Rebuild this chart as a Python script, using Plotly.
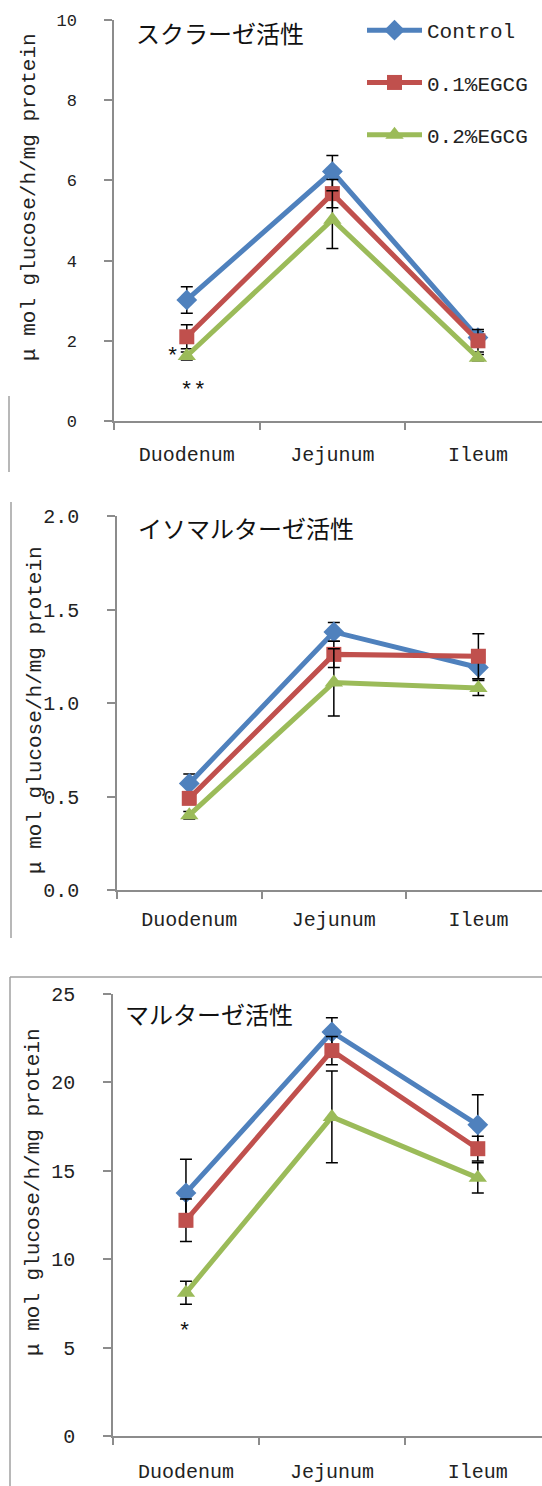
import plotly.graph_objects as go

W, H = 542, 1486

categories = ["Duodenum", "Jejunum", "Ileum"]
series_names = ["Control", "0.1%EGCG", "0.2%EGCG"]

# Sucrase activity (top)
sucrase_vals = {
    "Control": [3.02, 6.22, 2.08],
    "0.1%EGCG": [2.10, 5.67, 2.00],
    "0.2%EGCG": [1.62, 5.02, 1.58],
}
sucrase_err = {
    "Control": [0.33, 0.40, 0.15],
    "0.1%EGCG": [0.30, 0.35, 0.28],
    "0.2%EGCG": [0.10, 0.72, 0.08],
}

# Isomaltase activity (middle)
isomaltase_vals = {
    "Control": [0.57, 1.38, 1.19],
    "0.1%EGCG": [0.49, 1.26, 1.25],
    "0.2%EGCG": [0.40, 1.11, 1.08],
}
isomaltase_err = {
    "Control": [0.05, 0.05, 0.06],
    "0.1%EGCG": [0.03, 0.07, 0.12],
    "0.2%EGCG": [0.02, 0.18, 0.04],
}

# Maltase activity (bottom)
maltase_vals = {
    "Control": [13.75, 22.85, 17.6],
    "0.1%EGCG": [12.2, 21.8, 16.25],
    "0.2%EGCG": [8.1, 18.05, 14.6],
}
maltase_err = {
    "Control": [1.9, 0.8, 1.7],
    "0.1%EGCG": [1.2, 0.8, 0.7],
    "0.2%EGCG": [0.65, 2.6, 0.85],
}

panel_titles = ["スクラーゼ活性", "イソマルターゼ活性", "マルターゼ活性"]
y_title = "μ mol glucose/h/mg protein"
y_ranges = [[0, 10], [0, 2], [0, 25]]
y_dticks = [2, 0.5, 5]
y_formats = ["d", ".1f", "d"]

# significance marks: (panel, category position, y value, text)
stars = [
    (0, -0.10, 1.58, "*"),
    (0, 0.04, 0.74, "**"),
    (2, -0.01, 5.85, "*"),
]

colors = {"Control": "#4F81BD", "0.1%EGCG": "#C0504D", "0.2%EGCG": "#9BBB59"}
symbols = {"Control": "diamond", "0.1%EGCG": "square", "0.2%EGCG": "triangle-up"}
msizes = {"Control": 16, "0.1%EGCG": 15, "0.2%EGCG": 16}

MONO = "Liberation Mono"
CJK = "Noto Sans CJK JP"
AXIS_GRAY = "#8c8c8c"


def py(p):
    return 1 - p / H


def px(p):
    return p / W


# plot-area pixel boxes: (left, top, bottom)
boxes = [(114, 20, 421), (117, 516, 890), (113, 994, 1436)]
xlabel_standoff = [14, 10, 16]

fig = go.Figure()

datasets = [(sucrase_vals, sucrase_err), (isomaltase_vals, isomaltase_err), (maltase_vals, maltase_err)]
for i, (vals, errs) in enumerate(datasets):
    xa = "x" if i == 0 else f"x{i+1}"
    ya = "y" if i == 0 else f"y{i+1}"
    for name in series_names:
        fig.add_trace(go.Scatter(
            x=categories, y=vals[name], name=name,
            mode="lines+markers",
            line=dict(color=colors[name], width=5),
            marker=dict(symbol=symbols[name], size=msizes[name], color=colors[name]),
            error_y=dict(type="data", array=errs[name], visible=True,
                         color="black", thickness=1.5, width=6),
            xaxis=xa, yaxis=ya,
            showlegend=(i == 0),
            legendgroup=name,
        ))

layout = dict(
    width=W, height=H,
    margin=dict(l=0, r=0, t=0, b=0, autoexpand=False),
    paper_bgcolor="white", plot_bgcolor="white",
    showlegend=True,
    legend=dict(
        x=px(362), y=py(10), xanchor="left", yanchor="top",
        font=dict(family=MONO, size=21, color="#222"),
        bgcolor="rgba(0,0,0,0)", tracegroupgap=22, itemwidth=55,
    ),
)

annotations = []
shapes = []
for i in range(3):
    left, top, bottom = boxes[i]
    xk = "xaxis" if i == 0 else f"xaxis{i+1}"
    yk = "yaxis" if i == 0 else f"yaxis{i+1}"
    ya_ref = "y" if i == 0 else f"y{i+1}"
    layout[xk] = dict(
        domain=[px(left), 1], anchor=ya_ref,
        type="category", categoryorder="array", categoryarray=categories,
        range=[-0.5, 2.44],
        showline=True, linecolor=AXIS_GRAY, linewidth=1.5,
        ticks="outside", tickson="boundaries", ticklen=7, tickcolor=AXIS_GRAY, tickwidth=1.5,
        showgrid=False, zeroline=False,
        tickfont=dict(family=MONO, size=20, color="#222"),
        ticklabelstandoff=xlabel_standoff[i],
    )
    layout[yk] = dict(
        domain=[py(bottom), py(top)], anchor="x" if i == 0 else f"x{i+1}",
        range=y_ranges[i], dtick=y_dticks[i], tickformat=y_formats[i],
        showline=True, linecolor=AXIS_GRAY, linewidth=1.5,
        ticks="outside", ticklen=8, tickcolor=AXIS_GRAY, tickwidth=1.5,
        showgrid=False, zeroline=False,
        tickfont=dict(family=MONO, size=17 if i == 0 else 20, color="#222"),
        ticklabelstandoff=24,
    )

# panel titles
title_pos = [(134, 32), (136, 527), (123, 1013)]
for t, (tx, ty) in zip(panel_titles, title_pos):
    annotations.append(dict(text=t, x=px(tx), y=py(ty), xref="paper", yref="paper",
                            xanchor="left", yanchor="middle", showarrow=False,
                            font=dict(family=CJK, size=24, color="#111")))

# y-axis titles
ytitle_pos = [(30, 197), (35, 710), (33, 1192)]
for tx, ty in ytitle_pos:
    annotations.append(dict(text=y_title, x=px(tx), y=py(ty), xref="paper", yref="paper",
                            xanchor="center", yanchor="middle", showarrow=False, textangle=-90,
                            font=dict(family=MONO, size=21, color="#222")))

# significance stars
for panel, xoff, yv, txt in stars:
    xr = "x" if panel == 0 else f"x{panel+1}"
    yr = "y" if panel == 0 else f"y{panel+1}"
    annotations.append(dict(text=txt, x=xoff, y=yv, xref=xr, yref=yr,
                            xanchor="center", yanchor="middle", showarrow=False,
                            font=dict(family=MONO, size=22, color="#111")))

# frame remnants
line_style = dict(color="#a0a0a0", width=1.5)
shapes.append(dict(type="line", xref="paper", yref="paper", x0=px(9), x1=px(9), y0=py(396), y1=py(472), line=line_style))
shapes.append(dict(type="line", xref="paper", yref="paper", x0=px(11), x1=px(11), y0=py(502), y1=py(938), line=line_style))
shapes.append(dict(type="line", xref="paper", yref="paper", x0=px(10), x1=px(10), y0=py(977), y1=0, line=line_style))
shapes.append(dict(type="line", xref="paper", yref="paper", x0=px(10), x1=1, y0=py(977), y1=py(977), line=line_style))

layout["annotations"] = annotations
layout["shapes"] = shapes
fig.update_layout(**layout)

fig.write_html(
    "out.html",
    config={"displayModeBar": False},
    post_script="document.body.style.margin='0';document.body.style.overflow='hidden';",
)
